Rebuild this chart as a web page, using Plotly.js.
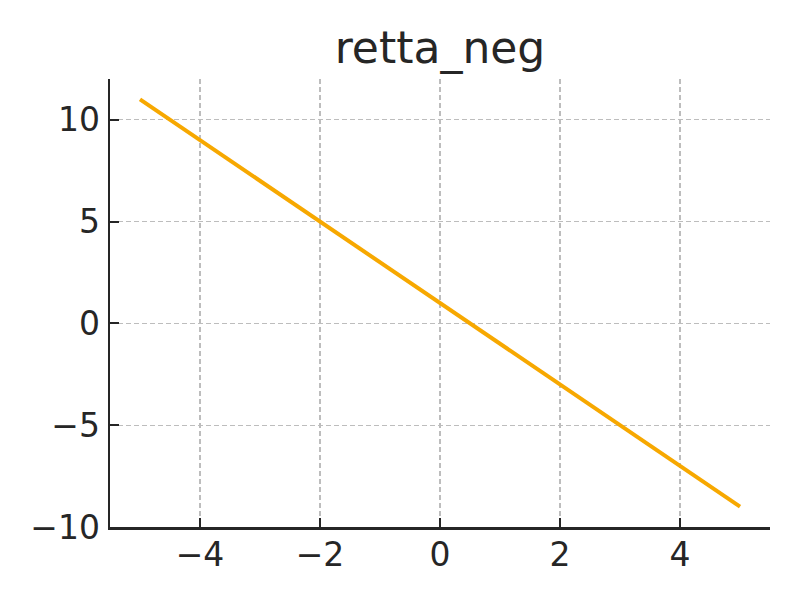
<!DOCTYPE html>
<html>
<head>
<meta charset="utf-8">
<script src="https://cdn.plot.ly/plotly-3.0.1.min.js"></script>
<style>body{margin:0;padding:0;background:#fff;}#chart{width:800px;height:600px;}</style>
</head>
<body>
<div id="chart"></div>
<script>
const chartTitle = "retta_neg";
const xValues = [-5, -4, -3, -2, -1, 0, 1, 2, 3, 4, 5];
const yValues = [11, 9, 7, 5, 3, 1, -1, -3, -5, -7, -9];
const xTicks = [-4, -2, 0, 2, 4];
const xTickLabels = ["\u22124", "\u22122", "0", "2", "4"];
const yTicks = [-10, -5, 0, 5, 10];
const yTickLabels = ["\u221210", "\u22125", "0", "5", "10"];

const textColor = "#262626";
const axisCommon = {
  showline: true, linecolor: textColor, linewidth: 2.5, mirror: false,
  ticks: "inside", ticklen: 9, tickwidth: 2, tickcolor: textColor,
  showgrid: true, gridcolor: "#bdbdbd", gridwidth: 1.2, griddash: "5px,3px",
  zeroline: false, tickfont: {size: 33, color: textColor, family: "DejaVu Sans"}
};

Plotly.newPlot("chart", [{
  x: xValues, y: yValues, type: "scatter", mode: "lines",
  line: {color: "#F7A800", width: 4}, showlegend: false, hoverinfo: "skip"
}], {
  width: 800, height: 600,
  margin: {l: 110, r: 30, t: 79, b: 73, pad: 0},
  paper_bgcolor: "#ffffff", plot_bgcolor: "#ffffff",
  font: {family: "DejaVu Sans", color: textColor},
  title: {text: chartTitle, font: {size: 44, color: textColor, family: "DejaVu Sans"},
          x: 0.55, xref: "container", xanchor: "center", y: 0.92, yref: "container", yanchor: "middle"},
  xaxis: Object.assign({}, axisCommon, {range: [-5.5, 5.5], tickvals: xTicks, ticktext: xTickLabels, ticklabelstandoff: -3}),
  yaxis: Object.assign({}, axisCommon, {range: [-10, 12], tickvals: yTicks, ticktext: yTickLabels, ticklabelstandoff: 1})
}, {staticPlot: true});
</script>
</body>
</html>
